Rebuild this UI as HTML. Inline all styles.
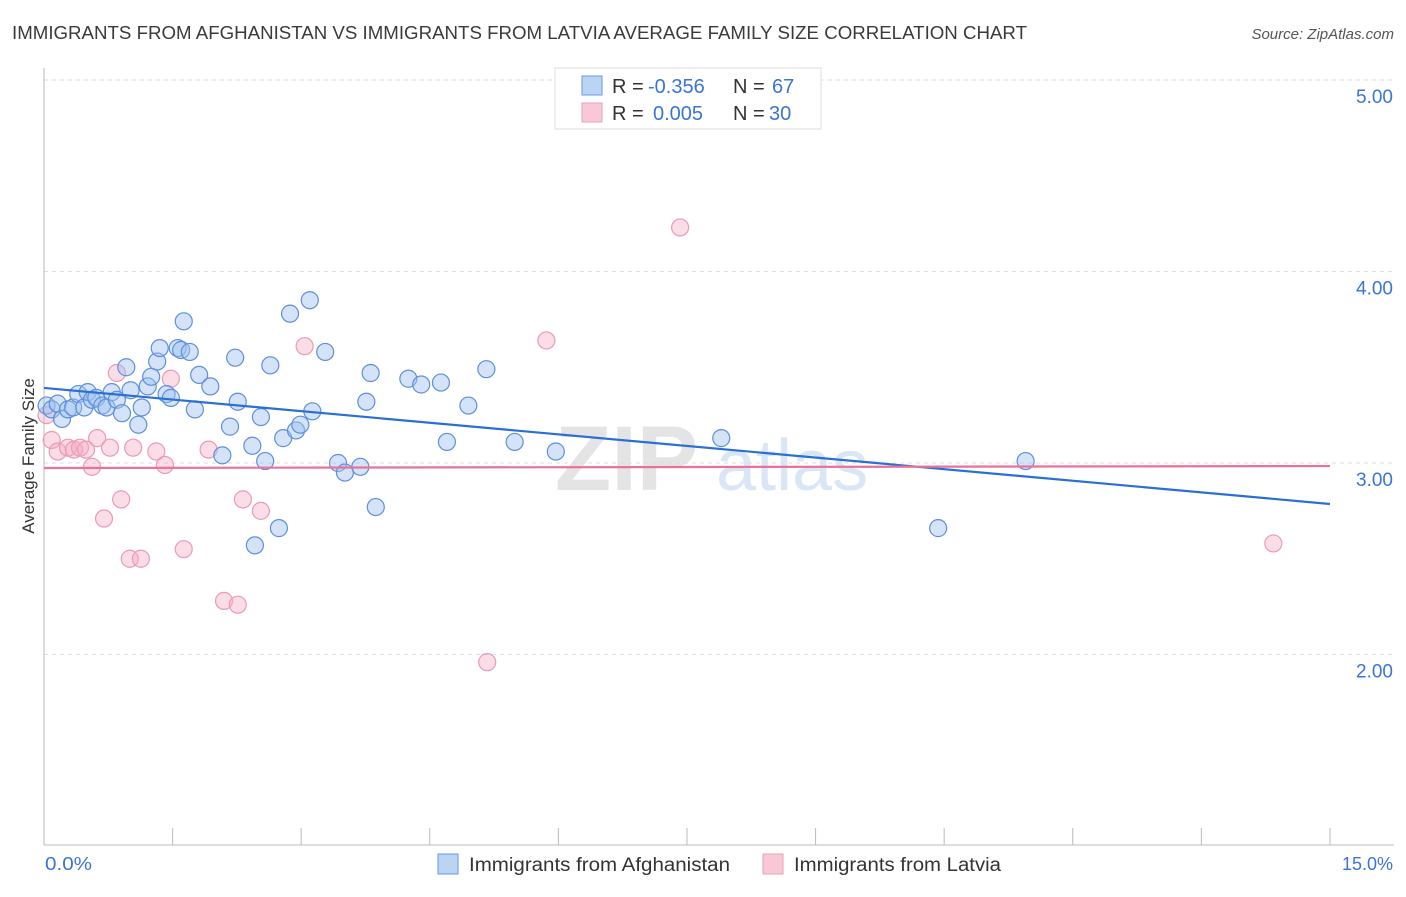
<!DOCTYPE html>
<html><head><meta charset="utf-8"><style>
body{margin:0;background:#fff;font-family:"Liberation Sans",sans-serif;}
svg text{font-family:"Liberation Sans",sans-serif;}
</style></head><body>
<svg id="chart" width="1406" height="892" xmlns="http://www.w3.org/2000/svg">
<text x="12" y="39" font-size="18" fill="#3a3a3a" textLength="1015" lengthAdjust="spacingAndGlyphs">IMMIGRANTS FROM AFGHANISTAN VS IMMIGRANTS FROM LATVIA AVERAGE FAMILY SIZE CORRELATION CHART</text>
<text x="1394" y="39" font-size="15" fill="#555" text-anchor="end" font-style="italic">Source: ZipAtlas.com</text>
<g>
<text x="555" y="490" font-size="92" fill="#e4e4e4" font-family="Liberation Serif" font-weight="bold">ZIP</text>
<text x="716" y="490" font-size="72" fill="#d8e6f6">atlas</text>
</g>
<g id="grid"></g>
<line x1="44" y1="68" x2="44" y2="845" stroke="#bbb"/>
<line x1="44" y1="845" x2="1394" y2="845" stroke="#bbb"/>
<g id="xticks"></g>
<text transform="translate(34,456) rotate(-90)" font-size="17" fill="#333" text-anchor="middle">Average Family Size</text>
<text x="45" y="870" font-size="18" fill="#3a74d8" textLength="47" lengthAdjust="spacingAndGlyphs">0.0%</text>
<text x="1393" y="870" font-size="18" fill="#3a74d8" text-anchor="end">15.0%</text>
<g id="points"></g>
<g id="trends"></g>
<g>
<rect x="555" y="68" width="266" height="61" fill="#fff" stroke="#ddd"/>
<rect x="582" y="76" width="20" height="19" fill="#bcd4f4" stroke="#6a9ae0"/>
<rect x="582" y="103" width="20" height="19" fill="#f9c8d6" stroke="#eba0b8"/>
<text x="612" y="93" font-size="20" fill="#333">R = <tspan x="648" fill="#3a74d8">-0.356</tspan><tspan x="733">N = </tspan><tspan x="772" fill="#3a74d8">67</tspan></text>
<text x="612" y="120" font-size="20" fill="#333">R = <tspan x="653" fill="#3a74d8">0.005</tspan><tspan x="733">N = </tspan><tspan x="769" fill="#3a74d8">30</tspan></text>
</g>
<g>
<rect x="438" y="854" width="20" height="20" fill="#bcd4f4" stroke="#6a9ae0"/>
<text x="469" y="871" font-size="19" fill="#333" textLength="261" lengthAdjust="spacingAndGlyphs">Immigrants from Afghanistan</text>
<rect x="763" y="854" width="20" height="20" fill="#f9c8d6" stroke="#eba0b8"/>
<text x="794" y="871" font-size="19" fill="#333" textLength="207" lengthAdjust="spacingAndGlyphs">Immigrants from Latvia</text>
</g>
</svg>
<script>
const yTicks=[2,3,4,5];
const yTickLabels=["2.00","3.00","4.00","5.00"];
const xTicks=[0,1.5,3,4.5,6,7.5,9,10.5,12,13.5,15];
const afgX=[0.03,0.09,0.16,0.21,0.28,0.34,0.40,0.47,0.51,0.56,0.61,0.68,0.73,0.79,0.85,0.91,0.96,1.01,1.10,1.14,1.21,1.25,1.32,1.35,1.43,1.48,1.56,1.60,1.63,1.70,1.76,1.81,1.94,2.08,2.17,2.23,2.26,2.43,2.46,2.53,2.58,2.64,2.74,2.79,2.87,2.94,2.99,3.10,3.13,3.28,3.43,3.51,3.69,3.76,3.81,3.87,4.25,4.40,4.63,4.70,4.95,5.16,5.49,5.97,7.90,10.43,11.45];
const afgY=[3.30,3.28,3.31,3.23,3.28,3.29,3.36,3.29,3.37,3.33,3.34,3.30,3.29,3.37,3.33,3.26,3.50,3.38,3.20,3.29,3.40,3.45,3.53,3.60,3.36,3.34,3.60,3.59,3.74,3.58,3.28,3.46,3.40,3.04,3.19,3.55,3.32,3.09,2.57,3.24,3.01,3.51,2.66,3.13,3.78,3.17,3.20,3.85,3.27,3.58,3.00,2.95,2.98,3.32,3.47,2.77,3.44,3.41,3.42,3.11,3.30,3.49,3.11,3.06,3.13,2.66,3.01];
const latX=[0.03,0.09,0.16,0.28,0.35,0.42,0.49,0.56,0.62,0.70,0.77,0.85,0.90,1.00,1.04,1.13,1.31,1.41,1.48,1.63,1.92,2.10,2.26,2.32,2.53,3.04,5.17,5.86,7.42,14.34];
const latY=[3.25,3.12,3.06,3.08,3.07,3.08,3.07,2.98,3.13,2.71,3.08,3.47,2.81,2.50,3.08,2.50,3.06,2.99,3.44,2.55,3.07,2.28,2.26,2.81,2.75,3.61,1.96,3.64,4.23,2.58];
const afgTrend=[3.392,2.786];
const latTrend=[2.974,2.984];
const NS="http://www.w3.org/2000/svg";
const xs=v=>44+v*85.73;
const ys=v=>463-(v-3)*191.5;
function mk(t,a,p){const e=document.createElementNS(NS,t);for(const k in a)e.setAttribute(k,a[k]);p.appendChild(e);return e;}
const grid=document.getElementById('grid');
yTicks.forEach((t,i)=>{
 const l=mk('line',{x1:44,x2:1394,y1:ys(t),y2:ys(t),stroke:'#ddd','stroke-dasharray':'4,4'},grid);
 
 
 const tx=mk('text',{x:1393,y:ys(t)+23,'font-size':19,fill:'#3a74d8','text-anchor':'end'},grid);
 tx.textContent=yTickLabels[i];
 
 
});
const xt=document.getElementById('xticks');
xTicks.forEach(t=>{
 const l=mk('line',{x1:xs(t),x2:xs(t),y1:828,y2:845,stroke:'#bbb'},xt);
 
 
});
const pts=document.getElementById('points');
latX.forEach((x,i)=>{
 const c=mk('circle',{cx:xs(x),cy:ys(latY[i]),r:8.5,fill:'rgba(244,170,196,0.4)',stroke:'#eb9ab5','stroke-width':1.2},pts);
 
 
});
afgX.forEach((x,i)=>{
 const c=mk('circle',{cx:xs(x),cy:ys(afgY[i]),r:8.5,fill:'rgba(160,194,240,0.45)',stroke:'#5d90da','stroke-width':1.2},pts);
 
 
});
const tr=document.getElementById('trends');
const t1=mk('line',{x1:xs(0),x2:xs(15),y1:ys(afgTrend[0]),y2:ys(afgTrend[1]),stroke:'#2a6fd6','stroke-width':2.2},tr);


const t2=mk('line',{x1:xs(0),x2:xs(15),y1:ys(latTrend[0]),y2:ys(latTrend[1]),stroke:'#e8729a','stroke-width':2.2},tr);


</script>
</body></html>
